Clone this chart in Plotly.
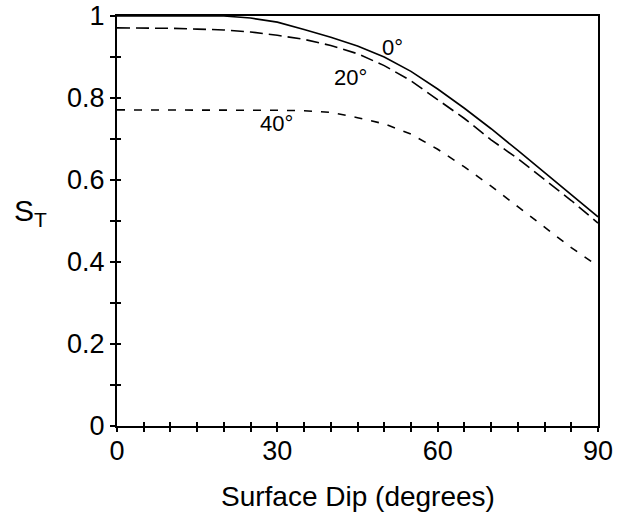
import plotly.graph_objects as go

# Surface dip (degrees)
dip = [0, 5, 10, 15, 20, 25, 30, 35, 40, 45, 50, 55, 60, 65, 70, 75, 80, 85, 90]

# S_T for the three curves
st_0 = [1.0, 1.0, 1.0, 1.0, 1.0, 0.995, 0.985, 0.967, 0.948, 0.927, 0.900, 0.865,
        0.822, 0.775, 0.725, 0.672, 0.618, 0.563, 0.510]
st_20 = [0.971, 0.971, 0.970, 0.968, 0.966, 0.961, 0.953, 0.943, 0.928, 0.908, 0.879,
         0.842, 0.797, 0.750, 0.698, 0.652, 0.601, 0.550, 0.495]
st_40 = [0.771, 0.771, 0.771, 0.771, 0.771, 0.771, 0.770, 0.769, 0.765, 0.752, 0.737,
         0.712, 0.675, 0.632, 0.585, 0.535, 0.485, 0.435, 0.390]

curve_labels = ["0°", "20°", "40°"]
label_x = [51.5, 43.6, 29.9]
label_y = [0.924, 0.851, 0.737]

x_tickvals = list(range(0, 91, 5))
x_ticktext = [str(v) if v % 30 == 0 else "" for v in x_tickvals]
y_tickvals = [i / 10 for i in range(11)]
y_ticktext = [("0" if i == 0 else ("1" if i == 10 else f"{i/10:.1f}")) if i % 2 == 0 else "" for i in range(11)]

FONT = "Liberation Sans, Arial, sans-serif"

fig = go.Figure()
fig.add_trace(go.Scatter(x=dip, y=st_0, mode="lines", line=dict(color="black", width=1.6),
                         cliponaxis=False, showlegend=False))
fig.add_trace(go.Scatter(x=dip, y=st_20, mode="lines",
                         line=dict(color="black", width=1.6, dash="13px,6px"),
                         showlegend=False))
fig.add_trace(go.Scatter(x=dip, y=st_40, mode="lines",
                         line=dict(color="black", width=1.6, dash="8px,9px"),
                         showlegend=False))
# invisible trace to anchor secondary axes (extra tick marks)
fig.add_trace(go.Scatter(x=[0], y=[0], xaxis="x2", yaxis="y2", mode="markers",
                         marker=dict(opacity=0), showlegend=False, hoverinfo="skip"))

for t, lx, ly in zip(curve_labels, label_x, label_y):
    fig.add_annotation(x=lx, y=ly, text=t, showarrow=False,
                       font=dict(family=FONT, size=22, color="black"))

fig.add_annotation(xref="paper", yref="paper", x=0.5, y=-0.173, yanchor="middle",
                   text="Surface Dip (degrees)", showarrow=False,
                   font=dict(family=FONT, size=28, color="black"))
fig.add_annotation(xref="paper", yref="paper", x=-0.179, y=0.52, xanchor="center",
                   text="S<sub>T</sub>", showarrow=False,
                   font=dict(family=FONT, size=30, color="black"))

axis_common = dict(showgrid=False, zeroline=False, color="black", automargin=False,
                   ticklabeloverflow="allow")

fig.update_layout(
    width=629, height=520,
    margin=dict(l=117, r=31, t=16, b=94),
    paper_bgcolor="white", plot_bgcolor="white",
    font=dict(family=FONT, size=27, color="black"),
    xaxis=dict(range=[0, 90], tickvals=x_tickvals, ticktext=x_ticktext,
               ticks="inside", ticklen=4, tickwidth=2, tickcolor="black",
               showline=True, linewidth=2, linecolor="black", mirror=True,
               **axis_common),
    yaxis=dict(range=[0, 1], tickvals=y_tickvals, ticktext=y_ticktext,
               ticks="outside", ticklen=5, tickwidth=2, tickcolor="black",
               showline=True, linewidth=2, linecolor="black", mirror=True,
               **axis_common),
    xaxis2=dict(range=[0, 90], overlaying="x", anchor="y2", tickvals=x_tickvals,
                ticks="outside", ticklen=5, tickwidth=2, tickcolor="black",
                showticklabels=False, showline=False, **axis_common),
    yaxis2=dict(range=[0, 1], overlaying="y", anchor="x2", side="left", tickvals=y_tickvals,
                ticks="inside", ticklen=4, tickwidth=2, tickcolor="black",
                showticklabels=False, showline=False, **axis_common),
)

fig.write_html("out.html", config={"displayModeBar": False},
               post_script="document.body.style.margin='0';")
